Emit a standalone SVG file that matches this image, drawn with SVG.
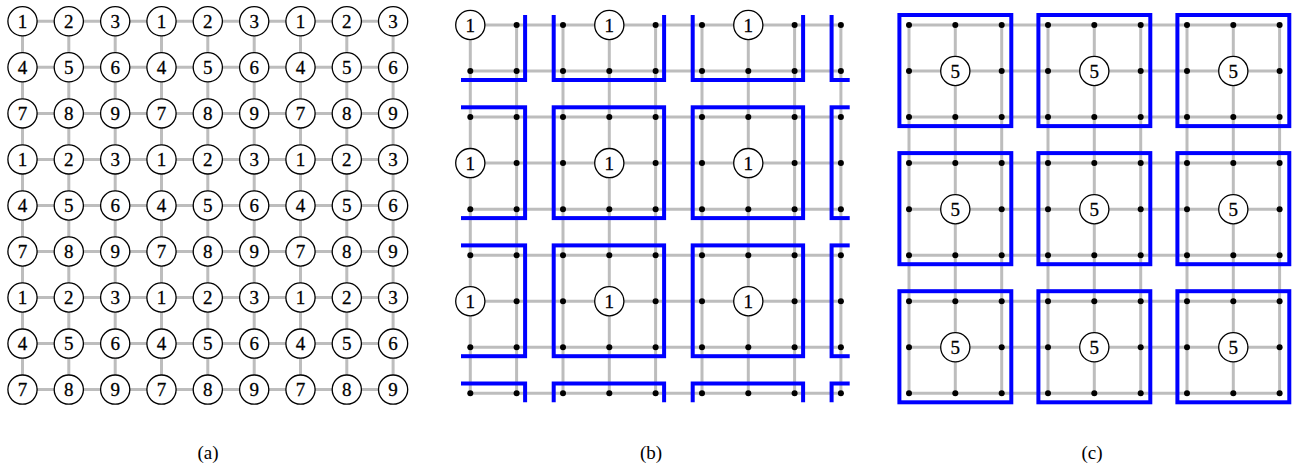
<svg xmlns="http://www.w3.org/2000/svg" xmlns:xlink="http://www.w3.org/1999/xlink" width="1292" height="468" viewBox="0 0 1292 468" font-family="Liberation Serif, DejaVu Serif, serif">
<style>
.grid{fill:none;stroke:#bdbdbd;stroke-width:3}
.box{fill:none;stroke:#0000ff;stroke-width:4}
.n circle{fill:#fff;stroke:#000;stroke-width:1.3}
.n text{font-family:'Liberation Serif','DejaVu Serif',serif;font-size:19px;text-anchor:middle;fill:#000;stroke:#000;stroke-width:0.3}
.cap{font-family:'Liberation Serif','DejaVu Serif',serif;font-size:19px;text-anchor:middle;fill:#000}
</style>
<defs>
<circle id="dot" r="3" fill="#000"/>
<clipPath id="clipB"><rect x="461" y="15" width="388.7" height="387.3"/></clipPath>
</defs>
<rect width="1292" height="468" fill="#fff"/>

<g id="connectors">
<path class="grid" d="M22.5 21.3H393.1M22.5 67.3H393.1M22.5 113.4H393.1M22.5 159.4H393.1M22.5 205.5H393.1M22.5 251.5H393.1M22.5 297.5H393.1M22.5 343.6H393.1M22.5 389.6H393.1M22.5 21.3V389.6M68.8 21.3V389.6M115.2 21.3V389.6M161.5 21.3V389.6M207.8 21.3V389.6M254.2 21.3V389.6M300.5 21.3V389.6M346.8 21.3V389.6M393.1 21.3V389.6"/>
<path class="grid" d="M470.3 25H840.9M470.3 71H840.9M470.3 117.1H840.9M470.3 163.1H840.9M470.3 209.2H840.9M470.3 255.2H840.9M470.3 301.2H840.9M470.3 347.3H840.9M470.3 393.3H840.9M470.3 25V393.3M516.6 25V393.3M563 25V393.3M609.3 25V393.3M655.6 25V393.3M702 25V393.3M748.3 25V393.3M794.6 25V393.3M840.9 25V393.3"/>
<path class="grid" d="M909 25H1279.6M909 71H1279.6M909 117.1H1279.6M909 163.1H1279.6M909 209.2H1279.6M909 255.2H1279.6M909 301.2H1279.6M909 347.3H1279.6M909 393.3H1279.6M909 25V393.3M955.3 25V393.3M1001.7 25V393.3M1048 25V393.3M1094.3 25V393.3M1140.7 25V393.3M1187 25V393.3M1233.3 25V393.3M1279.6 25V393.3"/>
</g>

<g id="boxes-b" clip-path="url(#clipB)">
<rect class="box" x="414.7" y="-30.8" width="110.4" height="110.8"/>
<rect class="box" x="553.7" y="-30.8" width="110.4" height="110.8"/>
<rect class="box" x="692.7" y="-30.8" width="110.4" height="110.8"/>
<rect class="box" x="831.6" y="-30.8" width="110.4" height="110.8"/>
<rect class="box" x="414.7" y="107.3" width="110.4" height="110.8"/>
<rect class="box" x="553.7" y="107.3" width="110.4" height="110.8"/>
<rect class="box" x="692.7" y="107.3" width="110.4" height="110.8"/>
<rect class="box" x="831.6" y="107.3" width="110.4" height="110.8"/>
<rect class="box" x="414.7" y="245.4" width="110.4" height="110.8"/>
<rect class="box" x="553.7" y="245.4" width="110.4" height="110.8"/>
<rect class="box" x="692.7" y="245.4" width="110.4" height="110.8"/>
<rect class="box" x="831.6" y="245.4" width="110.4" height="110.8"/>
<rect class="box" x="414.7" y="383.5" width="110.4" height="110.8"/>
<rect class="box" x="553.7" y="383.5" width="110.4" height="110.8"/>
<rect class="box" x="692.7" y="383.5" width="110.4" height="110.8"/>
<rect class="box" x="831.6" y="383.5" width="110.4" height="110.8"/>
</g>

<g id="boxes-c">
<rect class="box" x="899.4" y="15" width="111.9" height="111.1"/>
<rect class="box" x="1038.4" y="15" width="111.9" height="111.1"/>
<rect class="box" x="1177.4" y="15" width="111.9" height="111.1"/>
<rect class="box" x="899.4" y="153.1" width="111.9" height="111.1"/>
<rect class="box" x="1038.4" y="153.1" width="111.9" height="111.1"/>
<rect class="box" x="1177.4" y="153.1" width="111.9" height="111.1"/>
<rect class="box" x="899.4" y="291.2" width="111.9" height="111.1"/>
<rect class="box" x="1038.4" y="291.2" width="111.9" height="111.1"/>
<rect class="box" x="1177.4" y="291.2" width="111.9" height="111.1"/>
</g>

<g id="panel-a" font-size="19" text-anchor="middle">
<g id="a-0-0" class="n" transform="translate(22.5,21.3)"><circle r="14.6"/><text y="6.5">1</text></g>
<g id="a-0-1" class="n" transform="translate(68.8,21.3)"><circle r="14.6"/><text y="6.5">2</text></g>
<g id="a-0-2" class="n" transform="translate(115.2,21.3)"><circle r="14.6"/><text y="6.5">3</text></g>
<g id="a-0-3" class="n" transform="translate(161.5,21.3)"><circle r="14.6"/><text y="6.5">1</text></g>
<g id="a-0-4" class="n" transform="translate(207.8,21.3)"><circle r="14.6"/><text y="6.5">2</text></g>
<g id="a-0-5" class="n" transform="translate(254.2,21.3)"><circle r="14.6"/><text y="6.5">3</text></g>
<g id="a-0-6" class="n" transform="translate(300.5,21.3)"><circle r="14.6"/><text y="6.5">1</text></g>
<g id="a-0-7" class="n" transform="translate(346.8,21.3)"><circle r="14.6"/><text y="6.5">2</text></g>
<g id="a-0-8" class="n" transform="translate(393.1,21.3)"><circle r="14.6"/><text y="6.5">3</text></g>
<g id="a-1-0" class="n" transform="translate(22.5,67.3)"><circle r="14.6"/><text y="6.5">4</text></g>
<g id="a-1-1" class="n" transform="translate(68.8,67.3)"><circle r="14.6"/><text y="6.5">5</text></g>
<g id="a-1-2" class="n" transform="translate(115.2,67.3)"><circle r="14.6"/><text y="6.5">6</text></g>
<g id="a-1-3" class="n" transform="translate(161.5,67.3)"><circle r="14.6"/><text y="6.5">4</text></g>
<g id="a-1-4" class="n" transform="translate(207.8,67.3)"><circle r="14.6"/><text y="6.5">5</text></g>
<g id="a-1-5" class="n" transform="translate(254.2,67.3)"><circle r="14.6"/><text y="6.5">6</text></g>
<g id="a-1-6" class="n" transform="translate(300.5,67.3)"><circle r="14.6"/><text y="6.5">4</text></g>
<g id="a-1-7" class="n" transform="translate(346.8,67.3)"><circle r="14.6"/><text y="6.5">5</text></g>
<g id="a-1-8" class="n" transform="translate(393.1,67.3)"><circle r="14.6"/><text y="6.5">6</text></g>
<g id="a-2-0" class="n" transform="translate(22.5,113.4)"><circle r="14.6"/><text y="6.5">7</text></g>
<g id="a-2-1" class="n" transform="translate(68.8,113.4)"><circle r="14.6"/><text y="6.5">8</text></g>
<g id="a-2-2" class="n" transform="translate(115.2,113.4)"><circle r="14.6"/><text y="6.5">9</text></g>
<g id="a-2-3" class="n" transform="translate(161.5,113.4)"><circle r="14.6"/><text y="6.5">7</text></g>
<g id="a-2-4" class="n" transform="translate(207.8,113.4)"><circle r="14.6"/><text y="6.5">8</text></g>
<g id="a-2-5" class="n" transform="translate(254.2,113.4)"><circle r="14.6"/><text y="6.5">9</text></g>
<g id="a-2-6" class="n" transform="translate(300.5,113.4)"><circle r="14.6"/><text y="6.5">7</text></g>
<g id="a-2-7" class="n" transform="translate(346.8,113.4)"><circle r="14.6"/><text y="6.5">8</text></g>
<g id="a-2-8" class="n" transform="translate(393.1,113.4)"><circle r="14.6"/><text y="6.5">9</text></g>
<g id="a-3-0" class="n" transform="translate(22.5,159.4)"><circle r="14.6"/><text y="6.5">1</text></g>
<g id="a-3-1" class="n" transform="translate(68.8,159.4)"><circle r="14.6"/><text y="6.5">2</text></g>
<g id="a-3-2" class="n" transform="translate(115.2,159.4)"><circle r="14.6"/><text y="6.5">3</text></g>
<g id="a-3-3" class="n" transform="translate(161.5,159.4)"><circle r="14.6"/><text y="6.5">1</text></g>
<g id="a-3-4" class="n" transform="translate(207.8,159.4)"><circle r="14.6"/><text y="6.5">2</text></g>
<g id="a-3-5" class="n" transform="translate(254.2,159.4)"><circle r="14.6"/><text y="6.5">3</text></g>
<g id="a-3-6" class="n" transform="translate(300.5,159.4)"><circle r="14.6"/><text y="6.5">1</text></g>
<g id="a-3-7" class="n" transform="translate(346.8,159.4)"><circle r="14.6"/><text y="6.5">2</text></g>
<g id="a-3-8" class="n" transform="translate(393.1,159.4)"><circle r="14.6"/><text y="6.5">3</text></g>
<g id="a-4-0" class="n" transform="translate(22.5,205.5)"><circle r="14.6"/><text y="6.5">4</text></g>
<g id="a-4-1" class="n" transform="translate(68.8,205.5)"><circle r="14.6"/><text y="6.5">5</text></g>
<g id="a-4-2" class="n" transform="translate(115.2,205.5)"><circle r="14.6"/><text y="6.5">6</text></g>
<g id="a-4-3" class="n" transform="translate(161.5,205.5)"><circle r="14.6"/><text y="6.5">4</text></g>
<g id="a-4-4" class="n" transform="translate(207.8,205.5)"><circle r="14.6"/><text y="6.5">5</text></g>
<g id="a-4-5" class="n" transform="translate(254.2,205.5)"><circle r="14.6"/><text y="6.5">6</text></g>
<g id="a-4-6" class="n" transform="translate(300.5,205.5)"><circle r="14.6"/><text y="6.5">4</text></g>
<g id="a-4-7" class="n" transform="translate(346.8,205.5)"><circle r="14.6"/><text y="6.5">5</text></g>
<g id="a-4-8" class="n" transform="translate(393.1,205.5)"><circle r="14.6"/><text y="6.5">6</text></g>
<g id="a-5-0" class="n" transform="translate(22.5,251.5)"><circle r="14.6"/><text y="6.5">7</text></g>
<g id="a-5-1" class="n" transform="translate(68.8,251.5)"><circle r="14.6"/><text y="6.5">8</text></g>
<g id="a-5-2" class="n" transform="translate(115.2,251.5)"><circle r="14.6"/><text y="6.5">9</text></g>
<g id="a-5-3" class="n" transform="translate(161.5,251.5)"><circle r="14.6"/><text y="6.5">7</text></g>
<g id="a-5-4" class="n" transform="translate(207.8,251.5)"><circle r="14.6"/><text y="6.5">8</text></g>
<g id="a-5-5" class="n" transform="translate(254.2,251.5)"><circle r="14.6"/><text y="6.5">9</text></g>
<g id="a-5-6" class="n" transform="translate(300.5,251.5)"><circle r="14.6"/><text y="6.5">7</text></g>
<g id="a-5-7" class="n" transform="translate(346.8,251.5)"><circle r="14.6"/><text y="6.5">8</text></g>
<g id="a-5-8" class="n" transform="translate(393.1,251.5)"><circle r="14.6"/><text y="6.5">9</text></g>
<g id="a-6-0" class="n" transform="translate(22.5,297.5)"><circle r="14.6"/><text y="6.5">1</text></g>
<g id="a-6-1" class="n" transform="translate(68.8,297.5)"><circle r="14.6"/><text y="6.5">2</text></g>
<g id="a-6-2" class="n" transform="translate(115.2,297.5)"><circle r="14.6"/><text y="6.5">3</text></g>
<g id="a-6-3" class="n" transform="translate(161.5,297.5)"><circle r="14.6"/><text y="6.5">1</text></g>
<g id="a-6-4" class="n" transform="translate(207.8,297.5)"><circle r="14.6"/><text y="6.5">2</text></g>
<g id="a-6-5" class="n" transform="translate(254.2,297.5)"><circle r="14.6"/><text y="6.5">3</text></g>
<g id="a-6-6" class="n" transform="translate(300.5,297.5)"><circle r="14.6"/><text y="6.5">1</text></g>
<g id="a-6-7" class="n" transform="translate(346.8,297.5)"><circle r="14.6"/><text y="6.5">2</text></g>
<g id="a-6-8" class="n" transform="translate(393.1,297.5)"><circle r="14.6"/><text y="6.5">3</text></g>
<g id="a-7-0" class="n" transform="translate(22.5,343.6)"><circle r="14.6"/><text y="6.5">4</text></g>
<g id="a-7-1" class="n" transform="translate(68.8,343.6)"><circle r="14.6"/><text y="6.5">5</text></g>
<g id="a-7-2" class="n" transform="translate(115.2,343.6)"><circle r="14.6"/><text y="6.5">6</text></g>
<g id="a-7-3" class="n" transform="translate(161.5,343.6)"><circle r="14.6"/><text y="6.5">4</text></g>
<g id="a-7-4" class="n" transform="translate(207.8,343.6)"><circle r="14.6"/><text y="6.5">5</text></g>
<g id="a-7-5" class="n" transform="translate(254.2,343.6)"><circle r="14.6"/><text y="6.5">6</text></g>
<g id="a-7-6" class="n" transform="translate(300.5,343.6)"><circle r="14.6"/><text y="6.5">4</text></g>
<g id="a-7-7" class="n" transform="translate(346.8,343.6)"><circle r="14.6"/><text y="6.5">5</text></g>
<g id="a-7-8" class="n" transform="translate(393.1,343.6)"><circle r="14.6"/><text y="6.5">6</text></g>
<g id="a-8-0" class="n" transform="translate(22.5,389.6)"><circle r="14.6"/><text y="6.5">7</text></g>
<g id="a-8-1" class="n" transform="translate(68.8,389.6)"><circle r="14.6"/><text y="6.5">8</text></g>
<g id="a-8-2" class="n" transform="translate(115.2,389.6)"><circle r="14.6"/><text y="6.5">9</text></g>
<g id="a-8-3" class="n" transform="translate(161.5,389.6)"><circle r="14.6"/><text y="6.5">7</text></g>
<g id="a-8-4" class="n" transform="translate(207.8,389.6)"><circle r="14.6"/><text y="6.5">8</text></g>
<g id="a-8-5" class="n" transform="translate(254.2,389.6)"><circle r="14.6"/><text y="6.5">9</text></g>
<g id="a-8-6" class="n" transform="translate(300.5,389.6)"><circle r="14.6"/><text y="6.5">7</text></g>
<g id="a-8-7" class="n" transform="translate(346.8,389.6)"><circle r="14.6"/><text y="6.5">8</text></g>
<g id="a-8-8" class="n" transform="translate(393.1,389.6)"><circle r="14.6"/><text y="6.5">9</text></g>
</g>

<g id="panel-b" font-size="19" text-anchor="middle">
<g id="b-0-0" class="n" transform="translate(470.3,25)"><circle r="14.6"/><text y="6.5">1</text></g>
<g id="b-0-3" class="n" transform="translate(609.3,25)"><circle r="14.6"/><text y="6.5">1</text></g>
<g id="b-0-6" class="n" transform="translate(748.3,25)"><circle r="14.6"/><text y="6.5">1</text></g>
<g id="b-3-0" class="n" transform="translate(470.3,163.1)"><circle r="14.6"/><text y="6.5">1</text></g>
<g id="b-3-3" class="n" transform="translate(609.3,163.1)"><circle r="14.6"/><text y="6.5">1</text></g>
<g id="b-3-6" class="n" transform="translate(748.3,163.1)"><circle r="14.6"/><text y="6.5">1</text></g>
<g id="b-6-0" class="n" transform="translate(470.3,301.2)"><circle r="14.6"/><text y="6.5">1</text></g>
<g id="b-6-3" class="n" transform="translate(609.3,301.2)"><circle r="14.6"/><text y="6.5">1</text></g>
<g id="b-6-6" class="n" transform="translate(748.3,301.2)"><circle r="14.6"/><text y="6.5">1</text></g>
<g id="b-dots">
<use id="b-0-1" href="#dot" x="516.6" y="25"/><use id="b-0-2" href="#dot" x="563" y="25"/><use id="b-0-4" href="#dot" x="655.6" y="25"/><use id="b-0-5" href="#dot" x="702" y="25"/><use id="b-0-7" href="#dot" x="794.6" y="25"/><use id="b-0-8" href="#dot" x="840.9" y="25"/>
<use id="b-1-0" href="#dot" x="470.3" y="71"/><use id="b-1-1" href="#dot" x="516.6" y="71"/><use id="b-1-2" href="#dot" x="563" y="71"/><use id="b-1-3" href="#dot" x="609.3" y="71"/><use id="b-1-4" href="#dot" x="655.6" y="71"/><use id="b-1-5" href="#dot" x="702" y="71"/><use id="b-1-6" href="#dot" x="748.3" y="71"/><use id="b-1-7" href="#dot" x="794.6" y="71"/><use id="b-1-8" href="#dot" x="840.9" y="71"/>
<use id="b-2-0" href="#dot" x="470.3" y="117.1"/><use id="b-2-1" href="#dot" x="516.6" y="117.1"/><use id="b-2-2" href="#dot" x="563" y="117.1"/><use id="b-2-3" href="#dot" x="609.3" y="117.1"/><use id="b-2-4" href="#dot" x="655.6" y="117.1"/><use id="b-2-5" href="#dot" x="702" y="117.1"/><use id="b-2-6" href="#dot" x="748.3" y="117.1"/><use id="b-2-7" href="#dot" x="794.6" y="117.1"/><use id="b-2-8" href="#dot" x="840.9" y="117.1"/>
<use id="b-3-1" href="#dot" x="516.6" y="163.1"/><use id="b-3-2" href="#dot" x="563" y="163.1"/><use id="b-3-4" href="#dot" x="655.6" y="163.1"/><use id="b-3-5" href="#dot" x="702" y="163.1"/><use id="b-3-7" href="#dot" x="794.6" y="163.1"/><use id="b-3-8" href="#dot" x="840.9" y="163.1"/>
<use id="b-4-0" href="#dot" x="470.3" y="209.2"/><use id="b-4-1" href="#dot" x="516.6" y="209.2"/><use id="b-4-2" href="#dot" x="563" y="209.2"/><use id="b-4-3" href="#dot" x="609.3" y="209.2"/><use id="b-4-4" href="#dot" x="655.6" y="209.2"/><use id="b-4-5" href="#dot" x="702" y="209.2"/><use id="b-4-6" href="#dot" x="748.3" y="209.2"/><use id="b-4-7" href="#dot" x="794.6" y="209.2"/><use id="b-4-8" href="#dot" x="840.9" y="209.2"/>
<use id="b-5-0" href="#dot" x="470.3" y="255.2"/><use id="b-5-1" href="#dot" x="516.6" y="255.2"/><use id="b-5-2" href="#dot" x="563" y="255.2"/><use id="b-5-3" href="#dot" x="609.3" y="255.2"/><use id="b-5-4" href="#dot" x="655.6" y="255.2"/><use id="b-5-5" href="#dot" x="702" y="255.2"/><use id="b-5-6" href="#dot" x="748.3" y="255.2"/><use id="b-5-7" href="#dot" x="794.6" y="255.2"/><use id="b-5-8" href="#dot" x="840.9" y="255.2"/>
<use id="b-6-1" href="#dot" x="516.6" y="301.2"/><use id="b-6-2" href="#dot" x="563" y="301.2"/><use id="b-6-4" href="#dot" x="655.6" y="301.2"/><use id="b-6-5" href="#dot" x="702" y="301.2"/><use id="b-6-7" href="#dot" x="794.6" y="301.2"/><use id="b-6-8" href="#dot" x="840.9" y="301.2"/>
<use id="b-7-0" href="#dot" x="470.3" y="347.3"/><use id="b-7-1" href="#dot" x="516.6" y="347.3"/><use id="b-7-2" href="#dot" x="563" y="347.3"/><use id="b-7-3" href="#dot" x="609.3" y="347.3"/><use id="b-7-4" href="#dot" x="655.6" y="347.3"/><use id="b-7-5" href="#dot" x="702" y="347.3"/><use id="b-7-6" href="#dot" x="748.3" y="347.3"/><use id="b-7-7" href="#dot" x="794.6" y="347.3"/><use id="b-7-8" href="#dot" x="840.9" y="347.3"/>
<use id="b-8-0" href="#dot" x="470.3" y="393.3"/><use id="b-8-1" href="#dot" x="516.6" y="393.3"/><use id="b-8-2" href="#dot" x="563" y="393.3"/><use id="b-8-3" href="#dot" x="609.3" y="393.3"/><use id="b-8-4" href="#dot" x="655.6" y="393.3"/><use id="b-8-5" href="#dot" x="702" y="393.3"/><use id="b-8-6" href="#dot" x="748.3" y="393.3"/><use id="b-8-7" href="#dot" x="794.6" y="393.3"/><use id="b-8-8" href="#dot" x="840.9" y="393.3"/>
</g>
</g>

<g id="panel-c" font-size="19" text-anchor="middle">
<g id="c-1-1" class="n" transform="translate(955.3,71)"><circle r="14.6"/><text y="6.5">5</text></g>
<g id="c-1-4" class="n" transform="translate(1094.3,71)"><circle r="14.6"/><text y="6.5">5</text></g>
<g id="c-1-7" class="n" transform="translate(1233.3,71)"><circle r="14.6"/><text y="6.5">5</text></g>
<g id="c-4-1" class="n" transform="translate(955.3,209.2)"><circle r="14.6"/><text y="6.5">5</text></g>
<g id="c-4-4" class="n" transform="translate(1094.3,209.2)"><circle r="14.6"/><text y="6.5">5</text></g>
<g id="c-4-7" class="n" transform="translate(1233.3,209.2)"><circle r="14.6"/><text y="6.5">5</text></g>
<g id="c-7-1" class="n" transform="translate(955.3,347.3)"><circle r="14.6"/><text y="6.5">5</text></g>
<g id="c-7-4" class="n" transform="translate(1094.3,347.3)"><circle r="14.6"/><text y="6.5">5</text></g>
<g id="c-7-7" class="n" transform="translate(1233.3,347.3)"><circle r="14.6"/><text y="6.5">5</text></g>
<g id="c-dots">
<use id="c-0-0" href="#dot" x="909" y="25"/><use id="c-0-1" href="#dot" x="955.3" y="25"/><use id="c-0-2" href="#dot" x="1001.7" y="25"/><use id="c-0-3" href="#dot" x="1048" y="25"/><use id="c-0-4" href="#dot" x="1094.3" y="25"/><use id="c-0-5" href="#dot" x="1140.7" y="25"/><use id="c-0-6" href="#dot" x="1187" y="25"/><use id="c-0-7" href="#dot" x="1233.3" y="25"/><use id="c-0-8" href="#dot" x="1279.6" y="25"/>
<use id="c-1-0" href="#dot" x="909" y="71"/><use id="c-1-2" href="#dot" x="1001.7" y="71"/><use id="c-1-3" href="#dot" x="1048" y="71"/><use id="c-1-5" href="#dot" x="1140.7" y="71"/><use id="c-1-6" href="#dot" x="1187" y="71"/><use id="c-1-8" href="#dot" x="1279.6" y="71"/>
<use id="c-2-0" href="#dot" x="909" y="117.1"/><use id="c-2-1" href="#dot" x="955.3" y="117.1"/><use id="c-2-2" href="#dot" x="1001.7" y="117.1"/><use id="c-2-3" href="#dot" x="1048" y="117.1"/><use id="c-2-4" href="#dot" x="1094.3" y="117.1"/><use id="c-2-5" href="#dot" x="1140.7" y="117.1"/><use id="c-2-6" href="#dot" x="1187" y="117.1"/><use id="c-2-7" href="#dot" x="1233.3" y="117.1"/><use id="c-2-8" href="#dot" x="1279.6" y="117.1"/>
<use id="c-3-0" href="#dot" x="909" y="163.1"/><use id="c-3-1" href="#dot" x="955.3" y="163.1"/><use id="c-3-2" href="#dot" x="1001.7" y="163.1"/><use id="c-3-3" href="#dot" x="1048" y="163.1"/><use id="c-3-4" href="#dot" x="1094.3" y="163.1"/><use id="c-3-5" href="#dot" x="1140.7" y="163.1"/><use id="c-3-6" href="#dot" x="1187" y="163.1"/><use id="c-3-7" href="#dot" x="1233.3" y="163.1"/><use id="c-3-8" href="#dot" x="1279.6" y="163.1"/>
<use id="c-4-0" href="#dot" x="909" y="209.2"/><use id="c-4-2" href="#dot" x="1001.7" y="209.2"/><use id="c-4-3" href="#dot" x="1048" y="209.2"/><use id="c-4-5" href="#dot" x="1140.7" y="209.2"/><use id="c-4-6" href="#dot" x="1187" y="209.2"/><use id="c-4-8" href="#dot" x="1279.6" y="209.2"/>
<use id="c-5-0" href="#dot" x="909" y="255.2"/><use id="c-5-1" href="#dot" x="955.3" y="255.2"/><use id="c-5-2" href="#dot" x="1001.7" y="255.2"/><use id="c-5-3" href="#dot" x="1048" y="255.2"/><use id="c-5-4" href="#dot" x="1094.3" y="255.2"/><use id="c-5-5" href="#dot" x="1140.7" y="255.2"/><use id="c-5-6" href="#dot" x="1187" y="255.2"/><use id="c-5-7" href="#dot" x="1233.3" y="255.2"/><use id="c-5-8" href="#dot" x="1279.6" y="255.2"/>
<use id="c-6-0" href="#dot" x="909" y="301.2"/><use id="c-6-1" href="#dot" x="955.3" y="301.2"/><use id="c-6-2" href="#dot" x="1001.7" y="301.2"/><use id="c-6-3" href="#dot" x="1048" y="301.2"/><use id="c-6-4" href="#dot" x="1094.3" y="301.2"/><use id="c-6-5" href="#dot" x="1140.7" y="301.2"/><use id="c-6-6" href="#dot" x="1187" y="301.2"/><use id="c-6-7" href="#dot" x="1233.3" y="301.2"/><use id="c-6-8" href="#dot" x="1279.6" y="301.2"/>
<use id="c-7-0" href="#dot" x="909" y="347.3"/><use id="c-7-2" href="#dot" x="1001.7" y="347.3"/><use id="c-7-3" href="#dot" x="1048" y="347.3"/><use id="c-7-5" href="#dot" x="1140.7" y="347.3"/><use id="c-7-6" href="#dot" x="1187" y="347.3"/><use id="c-7-8" href="#dot" x="1279.6" y="347.3"/>
<use id="c-8-0" href="#dot" x="909" y="393.3"/><use id="c-8-1" href="#dot" x="955.3" y="393.3"/><use id="c-8-2" href="#dot" x="1001.7" y="393.3"/><use id="c-8-3" href="#dot" x="1048" y="393.3"/><use id="c-8-4" href="#dot" x="1094.3" y="393.3"/><use id="c-8-5" href="#dot" x="1140.7" y="393.3"/><use id="c-8-6" href="#dot" x="1187" y="393.3"/><use id="c-8-7" href="#dot" x="1233.3" y="393.3"/><use id="c-8-8" href="#dot" x="1279.6" y="393.3"/>
</g>
</g>

<g id="captions" font-size="19" text-anchor="middle">
<text class="cap" x="208" y="459">(a)</text>
<text class="cap" x="651" y="459">(b)</text>
<text class="cap" x="1092" y="459">(c)</text>
</g>
</svg>
